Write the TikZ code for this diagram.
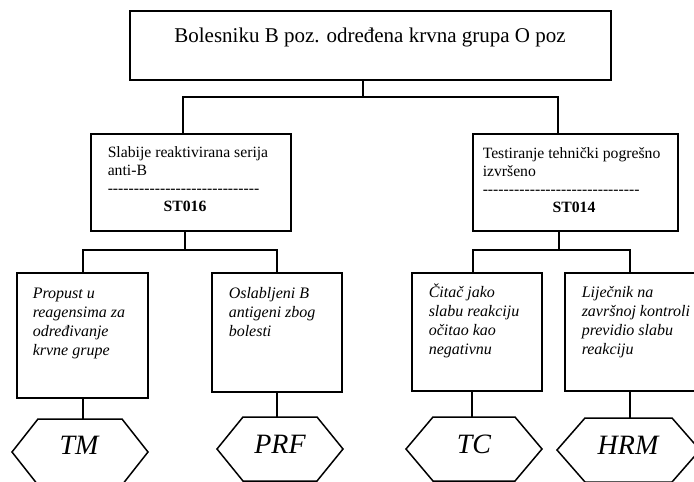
\documentclass[tikz,border=0pt]{standalone}
\usepackage{fontspec}
\setmainfont{Liberation Serif}
\newfontfamily\dashfont{Liberation Serif}[Ligatures=TeXOff]
\newcommand\hexpath[5]{% cx, cy, half width, inset, half height
  \draw ({#1-#3},{#2}) -- ({#1-#3+#4},{#2+#5}) -- ({#1+#3-#4},{#2+#5}) -- ({#1+#3},{#2})
        -- ({#1+#3-#4},{#2-#5}) -- ({#1-#3+#4},{#2-#5}) -- cycle;}
\begin{document}
\begin{tikzpicture}[x=1pt,y=1pt,line width=1.5pt,
  box/.style={draw,line width=1.5pt,inner sep=0pt,outer sep=0pt,anchor=north west},
  midtext/.style={anchor=base west,inner sep=0pt,align=left,font=\fontsize{15.7}{18}\selectfont},
  leaftext/.style={anchor=base west,inner sep=0pt,align=left,font=\fontsize{16}{19}\selectfont\itshape},
  codetext/.style={anchor=base,inner sep=0pt,font=\fontsize{15.7}{18}\selectfont\bfseries},
  dashtext/.style={anchor=base west,inner sep=0pt,font=\fontsize{15.7}{18}\selectfont\dashfont},
  hextext/.style={anchor=base,inner sep=0pt,font=\fontsize{28}{32}\selectfont\itshape}]
\useasboundingbox (0,0) rectangle (694,-482);
\clip (0,0) rectangle (694,-482);

% boxes
\node[box,minimum width=481pt,minimum height=69pt] (top) at (130,-11) {};
\node[box,minimum width=200pt,minimum height=97pt] (midL) at (91,-134) {};
\node[box,minimum width=205pt,minimum height=97pt] (midR) at (473,-134) {};
\node[box,minimum width=131pt,minimum height=125pt] (tmbox) at (17,-273) {};
\node[box,minimum width=130pt,minimum height=119pt] (prfbox) at (212,-273) {};
\node[box,minimum width=130pt,minimum height=118pt] (tcbox) at (412,-273) {};
\node[box,minimum width=140pt,minimum height=118pt] (hrmbox) at (565,-273) {};

% texts (base anchor = baseline of the last line)
\node[anchor=base,inner sep=0pt,font=\fontsize{21}{24}\selectfont] (toptext) at (370,-42)
  {Bolesniku B poz. određena krvna grupa O poz};
\node[midtext] (midLtext) at (107,-175) {Slabije reaktivirana serija\\anti-B};
\node[dashtext] (midLdash) at (107,-193) {-----------------------------};
\node[codetext] (midLcode) at (185,-211) {ST016};
\node[midtext] (midRtext) at (482,-176) {Testiranje tehnički pogrešno\\izvršeno};
\node[dashtext] (midRdash) at (482,-194) {------------------------------};
\node[codetext] (midRcode) at (574,-212) {ST014};

\node[leaftext] (tmtext) at (32,-355) {Propust u\\reagensima za\\određivanje\\krvne grupe};
\node[leaftext] (prftext) at (228,-336) {Oslabljeni B\\antigeni zbog\\bolesti};
\node[leaftext] (tctext) at (428,-354) {Čitač jako\\slabu reakciju\\očitao kao\\negativnu};
\node[leaftext] (hrmtext) at (581,-354) {Liječnik na\\završnoj kontroli\\previdio slabu\\reakciju};

% hexagons
\hexpath{80}{-452}{68}{26}{33}
\hexpath{280}{-449}{63}{26}{32}
\hexpath{474}{-449}{68}{27}{32}
\hexpath{628.5}{-450}{71.5}{28}{32}
\node[hextext] (tm) at (79,-454) {TM};
\node[hextext] (prf) at (280,-453) {PRF};
\node[hextext] (tc) at (474,-453) {TC};
\node[hextext] (hrm) at (628,-454) {HRM};
\coordinate (tmtop) at (83,-419);
\coordinate (prftop) at (277,-417);
\coordinate (tctop) at (472,-417);
\coordinate (hrmtop) at (630,-418);

% connectors
\coordinate (j0) at (363,-97);
\coordinate (jl) at (183,-97);
\coordinate (jr) at (558,-97);
\draw (top.south -| j0) -- (j0);
\draw (jl |- midL.north) -- (jl) -- (jr) -- (jr |- midR.north);

\coordinate (kL) at (185,-250);
\coordinate (a1) at (83,-250);
\coordinate (a2) at (277,-250);
\draw (midL.south -| kL) -- (kL);
\draw (a1 |- tmbox.north) -- (a1) -- (a2) -- (a2 |- prfbox.north);

\coordinate (kR) at (559,-250);
\coordinate (b1) at (473,-250);
\coordinate (b2) at (630,-250);
\draw (midR.south -| kR) -- (kR);
\draw (b1 |- tcbox.north) -- (b1) -- (b2) -- (b2 |- hrmbox.north);

\draw (tmbox.south -| tmtop) -- (tmtop);
\draw (prfbox.south -| prftop) -- (prftop);
\draw (tcbox.south -| tctop) -- (tctop);
\draw (hrmbox.south -| hrmtop) -- (hrmtop);
\end{tikzpicture}
\end{document}
